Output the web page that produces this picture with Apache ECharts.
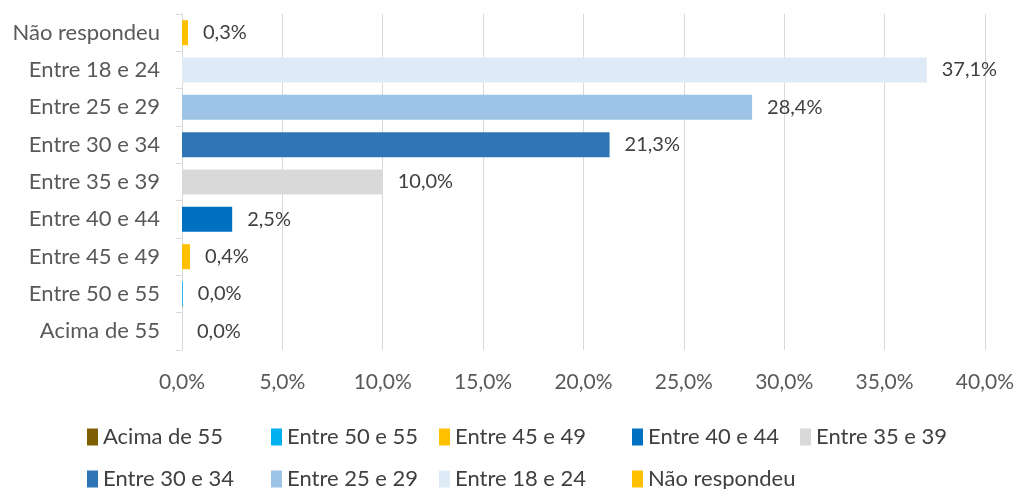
<!DOCTYPE html>
<html>
<head>
<meta charset="utf-8">
<script src="https://cdn.jsdelivr.net/npm/echarts@6/dist/echarts.min.js"></script>
<style>
  html, body { margin: 0; padding: 0; background: #fff; }
  #chart { width: 1017px; height: 489px; }
</style>
</head>
<body>
<div id="chart"></div>
<script>
// faixas etarias, de baixo para cima
var categorias = ['Acima de 55', 'Entre 50 e 55', 'Entre 45 e 49', 'Entre 40 e 44', 'Entre 35 e 39',
                  'Entre 30 e 34', 'Entre 25 e 29', 'Entre 18 e 24', 'Não respondeu'];
var valores = [0.0, 0.04, 0.4, 2.5, 10.0, 21.3, 28.4, 37.1, 0.3];
var cores = ['#7F6000', '#00B0F0', '#FFC000', '#0070C0', '#D9D9D9', '#2E75B6', '#9DC3E6', '#DEEBF7', '#FFC000'];
var ticksX = [0, 5, 10, 15, 20, 25, 30, 35, 40];
// legenda em grade, como no Excel: 5 colunas, 2 linhas
var colunasX = [87, 271, 439, 632, 800];
var linhasY = [426, 468];

function fmt(v) {
    return v.toFixed(1).replace('.', ',') + '%';
}

function initChart() {
    var chart = echarts.init(document.getElementById('chart'));
    var fonte = 'Lato, "Noto Sans", sans-serif';

    var series = categorias.map(function (nome, i) {
        var data = categorias.map(function (c, j) { return j === i ? valores[i] : '-'; });
        return {
            name: nome,
            type: 'bar',
            stack: 'total',
            barWidth: 25,
            data: data,
            itemStyle: { color: cores[i] },
            label: {
                show: true,
                position: 'right',
                distance: 15,
                color: '#404040',
                fontSize: 20,
                fontFamily: fonte,
                formatter: function (p) { return fmt(p.value); }
            }
        };
    });

    // uma legenda por item, posta na grade
    var legendas = categorias.map(function (nome, i) {
        return {
            data: [nome],
            left: colunasX[i % 5],
            top: linhasY[Math.floor(i / 5)],
            itemWidth: 11,
            itemHeight: 17,
            icon: 'rect',
            padding: 0,
            textStyle: { color: '#404040', fontSize: 22, fontFamily: fonte }
        };
    });

    chart.setOption({
        animation: false,
        textStyle: { fontFamily: fonte },
        grid: { left: 182, right: 31, top: 14, bottom: 139, containLabel: false },
        legend: legendas,
        xAxis: {
            type: 'value',
            min: 0,
            max: 40,
            interval: 5,
            axisLine: { show: false },
            axisTick: { show: false },
            splitLine: { lineStyle: { color: '#D9D9D9', width: 1 } },
            axisLabel: {
                color: '#595959',
                fontSize: 21,
                margin: 22,
                formatter: function (v) { return ticksX.indexOf(v) >= 0 ? fmt(v) : ''; }
            }
        },
        yAxis: {
            type: 'category',
            data: categorias,
            axisLine: { lineStyle: { color: '#D9D9D9' } },
            axisTick: { show: true, length: 6, lineStyle: { color: '#D9D9D9' } },
            axisLabel: { color: '#595959', fontSize: 22, margin: 22 }
        },
        series: series
    });
}

initChart();
</script>
</body>
</html>
